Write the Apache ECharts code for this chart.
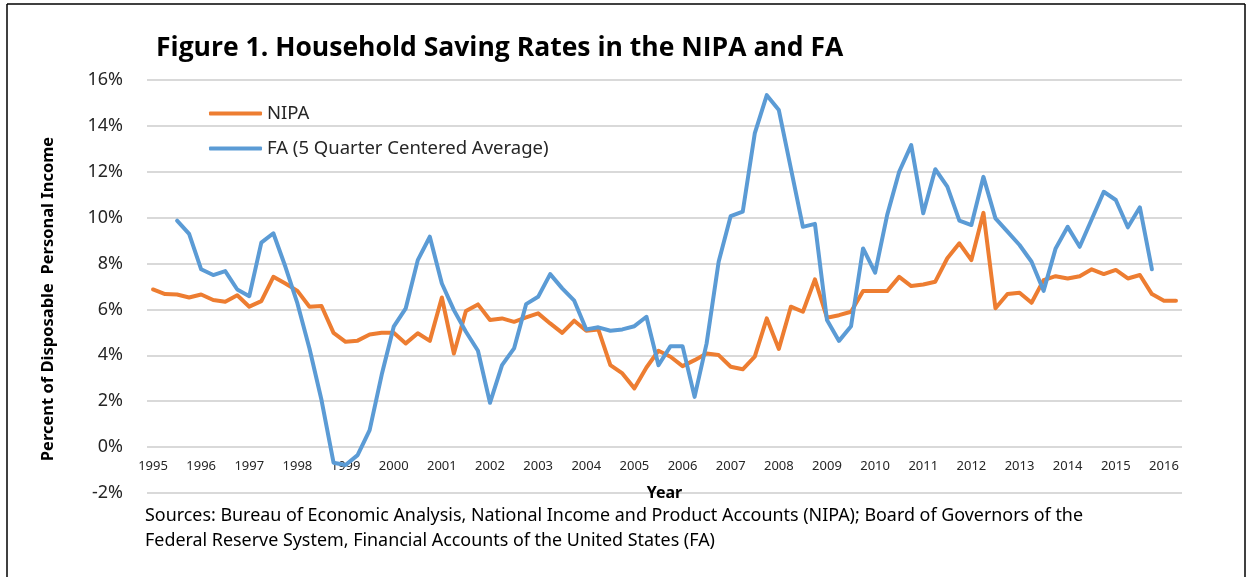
<!DOCTYPE html>
<html>
<head>
<meta charset="utf-8">
<title>Household Saving Rates in the NIPA and FA</title>
<script src="https://cdn.jsdelivr.net/npm/echarts@6/dist/echarts.min.js"></script>
<style>
  html, body { margin: 0; padding: 0; background: #fff; }
  #chart { width: 1253px; height: 577px; }
</style>
</head>
<body>
<div id="chart"></div>
<script>
// quarterly, 1995Q1 .. 2016Q2
const years = ['1995', '1996', '1997', '1998', '1999', '2000', '2001', '2002', '2003', '2004', '2005',
  '2006', '2007', '2008', '2009', '2010', '2011', '2012', '2013', '2014', '2015', '2016']
const quarters = ['Q1', 'Q2', 'Q3', 'Q4']

const nipa = [
  6.87, 6.67, 6.65, 6.52, 6.65, 6.41, 6.34, 6.62,
  6.12, 6.36, 7.42, 7.13, 6.81, 6.12, 6.15, 4.98,
  4.59, 4.64, 4.91, 4.98, 4.98, 4.52, 4.96, 4.63,
  6.52, 4.08, 5.93, 6.22, 5.54, 5.61, 5.46, 5.65,
  5.83, 5.39, 4.98, 5.51, 5.07, 5.13, 3.57, 3.21,
  2.56, 3.47, 4.20, 3.94, 3.53, 3.79, 4.08, 4.01,
  3.50, 3.39, 3.94, 5.61, 4.28, 6.12, 5.90, 7.31,
  5.64, 5.75, 5.90, 6.80, 6.80, 6.80, 7.42, 7.02,
  7.09, 7.21, 8.23, 8.88, 8.15, 10.21, 6.05, 6.67,
  6.73, 6.29, 7.28, 7.45, 7.35, 7.45, 7.75, 7.54,
  7.72, 7.35, 7.50, 6.67, 6.38, 6.38
]

const fa = [
  null, null, 9.87, 9.29, 7.75, 7.50, 7.67, 6.87,
  6.58, 8.91, 9.32, 7.86, 6.26, 4.30, 2.05, -0.68,
  -0.78, -0.35, 0.74, 3.15, 5.25, 6.05, 8.15, 9.17,
  7.13, 5.97, 5.03, 4.20, 1.93, 3.57, 4.30, 6.23,
  6.55, 7.54, 6.92, 6.38, 5.13, 5.22, 5.07, 5.13,
  5.27, 5.68, 3.57, 4.40, 4.40, 2.19, 4.52, 8.08,
  10.07, 10.26, 13.67, 15.34, 14.69, 12.15, 9.60, 9.73,
  5.54, 4.63, 5.27, 8.66, 7.60, 10.11, 12.00, 13.16,
  10.19, 12.11, 11.35, 9.87, 9.68, 11.78, 9.97, 9.39,
  8.81, 8.08, 6.81, 8.66, 9.60, 8.73, 9.93, 11.13,
  10.77, 9.58, 10.45, 7.75, null, null
]

const categories = []
years.forEach(y => quarters.forEach(q => categories.push(y + ' ' + q)))
categories.length = nipa.length

const gridColor = '#d9d9d9'
const chart = echarts.init(document.getElementById('chart'))

chart.setOption({
  backgroundColor: '#fff',
  animation: false,
  textStyle: { fontFamily: 'Noto Sans' },
  title: {
    text: 'Figure 1. Household Saving Rates in the NIPA and FA',
    left: 151,
    top: 30,
    textStyle: { fontSize: 26.5, fontWeight: 'bold', color: '#000', fontFamily: 'Open Sans' }
  },
  legend: {
    orient: 'vertical',
    left: 204,
    top: 99,
    itemWidth: 53,
    itemHeight: 4,
    itemGap: 16,
    icon: 'roundRect',
    textStyle: { fontSize: 18.5, color: '#262626' },
    data: ['NIPA', 'FA (5 Quarter Centered Average)']
  },
  grid: { left: 147, right: 71, top: 80, bottom: 84 },
  xAxis: {
    type: 'category',
    data: categories,
    boundaryGap: true,
    // labels sit by the 0% line, as in the original
    offset: -46,
    name: 'Year',
    nameLocation: 'middle',
    nameGap: 38,
    nameTextStyle: { fontSize: 16, fontWeight: 'bold', color: '#000' },
    axisLine: { show: false },
    axisTick: { show: false },
    axisLabel: {
      interval: 3,
      fontSize: 13,
      color: '#262626',
      margin: 13,
      formatter: v => v.split(' ')[0]
    }
  },
  yAxis: {
    type: 'value',
    min: -2,
    max: 16,
    interval: 2,
    name: 'Percent of Disposable  Personal Income',
    nameLocation: 'middle',
    nameGap: 90,
    nameRotate: 90,
    nameTextStyle: { fontSize: 16.5, fontWeight: 'bold', color: '#000', padding: [0, 25, 0, 0] },
    axisLine: { show: false },
    axisTick: { show: false },
    axisLabel: { fontSize: 18, color: '#262626', margin: 24, formatter: '{value}%' },
    splitLine: { lineStyle: { color: gridColor, width: 2 } }
  },
  series: [
    {
      name: 'NIPA',
      type: 'line',
      data: nipa,
      showSymbol: false,
      symbol: 'none',
      itemStyle: { color: '#ed7d31' },
      lineStyle: { color: '#ed7d31', width: 4, join: 'round', cap: 'round' }
    },
    {
      name: 'FA (5 Quarter Centered Average)',
      type: 'line',
      data: fa,
      showSymbol: false,
      symbol: 'none',
      itemStyle: { color: '#5b9bd5' },
      lineStyle: { color: '#5b9bd5', width: 4, join: 'round', cap: 'round' }
    }
  ],
  graphic: [
    // frame round the figure
    { type: 'line', shape: { x1: 7, y1: 4, x2: 1245, y2: 4 }, style: { stroke: '#000', lineWidth: 1.5 } },
    { type: 'line', shape: { x1: 7, y1: 4, x2: 7, y2: 577 }, style: { stroke: '#000', lineWidth: 1.5 } },
    { type: 'line', shape: { x1: 1245, y1: 4, x2: 1245, y2: 577 }, style: { stroke: '#000', lineWidth: 1.5 } },
    {
      type: 'text',
      left: 145,
      top: 503,
      style: {
        text: 'Sources: Bureau of Economic Analysis, National Income and Product Accounts (NIPA); Board of Governors of the\nFederal Reserve System, Financial Accounts of the United States (FA)',
        fontSize: 17.9,
        lineHeight: 25,
        fontFamily: 'Noto Sans',
        fill: '#000'
      }
    }
  ]
})
</script>
</body>
</html>
